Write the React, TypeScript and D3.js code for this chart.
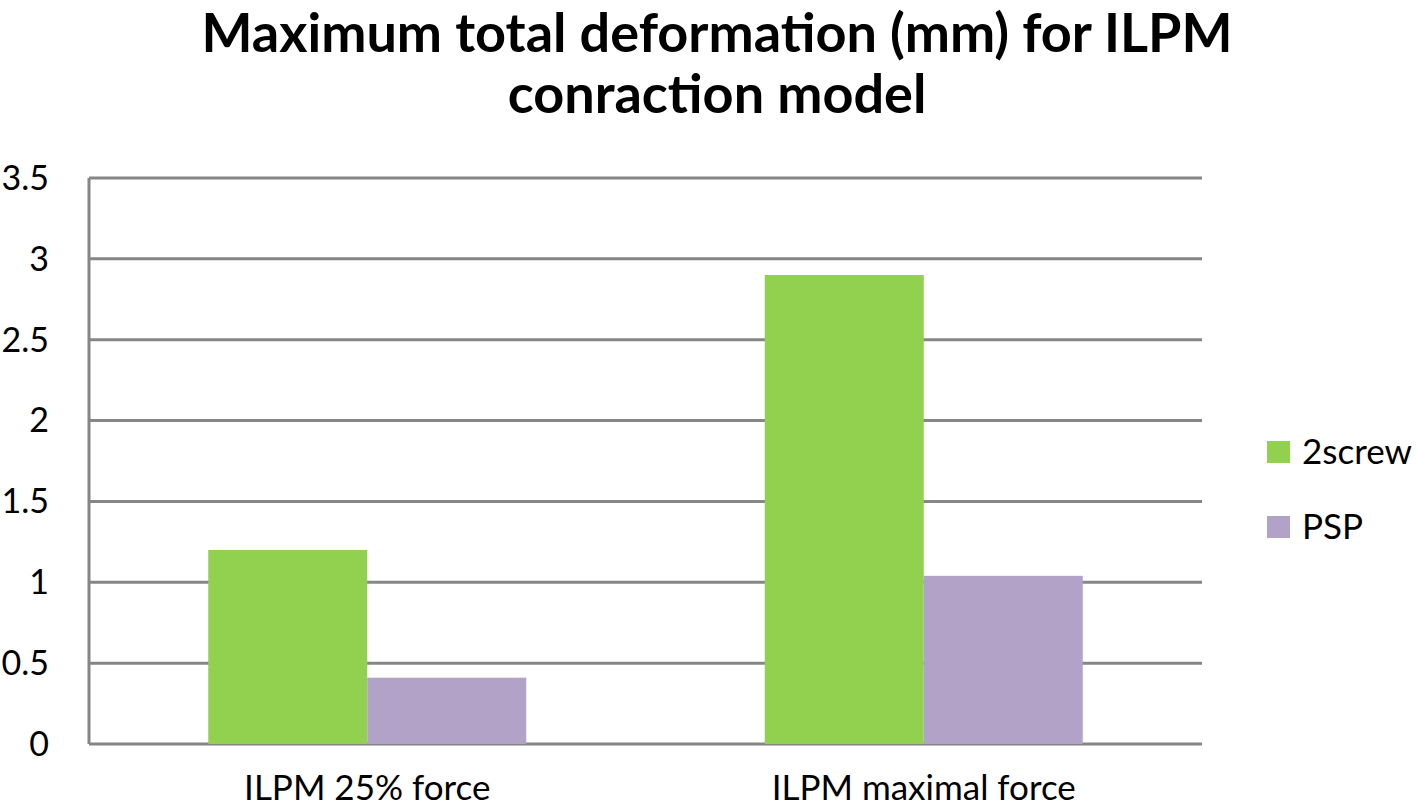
import React from "react";
import * as d3 from "d3";

const categories = ["ILPM 25% force", "ILPM maximal force"];
const seriesNames = ["2screw", "PSP"];
const screwValues = [1.2, 2.9];
const pspValues = [0.41, 1.04];
const yTicks = [0, 0.5, 1, 1.5, 2, 2.5, 3, 3.5];
const colors = ["#92D050", "#B3A2C7"];

const width = 1418;
const height = 810;
const left = 89;
const right = 1202;
const top = 178;
const bottom = 744;
const font = "Lato, 'Open Sans', sans-serif";

export default function App() {
  const y = d3.scaleLinear().domain([0, 3.5]).range([bottom, top]);
  const x0 = d3.scaleBand().domain(categories).range([left, right]).padding(0);
  const x1 = d3
    .scaleBand()
    .domain(seriesNames)
    .range([0, x0.bandwidth()])
    .paddingInner(0)
    .paddingOuter(0.75);
  const values = [screwValues, pspValues];

  return (
    <svg
      width={width}
      height={height}
      style={{ position: "absolute", left: 0, top: 0, background: "#fff" }}
    >
      <text
        x={717}
        y={52}
        textAnchor="middle"
        fontFamily={font}
        fontWeight="bold"
        fontSize={54}
      >
        Maximum total deformation (mm) for ILPM
      </text>
      <text
        x={717}
        y={113}
        textAnchor="middle"
        fontFamily={font}
        fontWeight="bold"
        fontSize={54}
      >
        conraction model
      </text>

      {/* grid */}
      {yTicks.map(t => (
        <g key={t}>
          <line
            x1={left}
            x2={right}
            y1={y(t)}
            y2={y(t)}
            stroke="#868686"
            strokeWidth={3}
          />
          <text
            x={49}
            y={y(t)}
            dy="0.35em"
            textAnchor="end"
            fontFamily={font}
            fontSize={34}
          >
            {t}
          </text>
        </g>
      ))}
      <line x1={left} x2={left} y1={top} y2={bottom} stroke="#868686" strokeWidth={3} />

      {/* bars */}
      {categories.map((c, i) => (
        <g key={c} transform={`translate(${x0(c)},0)`}>
          {seriesNames.map((s, j) => (
            <rect
              key={s}
              x={x1(s)}
              y={y(values[j][i])}
              width={x1.bandwidth()}
              height={y(0) - y(values[j][i])}
              fill={colors[j]}
            />
          ))}
          <text
            x={x0.bandwidth() / 2}
            y={800}
            textAnchor="middle"
            fontFamily={font}
            fontSize={35}
          >
            {c}
          </text>
        </g>
      ))}

      {/* legend */}
      {seriesNames.map((s, j) => (
        <g key={s} transform={`translate(1267,${441 + j * 75})`}>
          <rect width={23} height={22} fill={colors[j]} />
          <text x={35} y={11} dy="0.35em" fontFamily={font} fontSize={35}>
            {s}
          </text>
        </g>
      ))}
    </svg>
  );
}
